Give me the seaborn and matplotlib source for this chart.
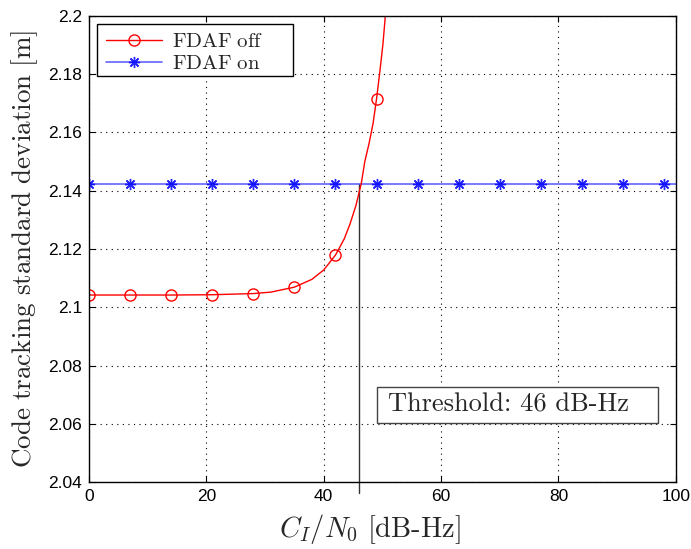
import matplotlib
matplotlib.use("Agg")
import matplotlib.pyplot as plt
from matplotlib.lines import Line2D
from matplotlib.patches import Rectangle
from matplotlib.ticker import FuncFormatter
import seaborn as sns
import pandas as pd

# ---- data ----
off_marker_x = [0, 7, 14, 21, 28, 35, 42, 49]
off_marker_y = [2.1042, 2.1042, 2.1042, 2.1043, 2.1047, 2.1069, 2.1179, 2.1715]
off_curve_x = [0, 7, 14, 21, 28, 31, 35, 38, 40, 42, 43.5, 44.5, 45.5, 46.4,
               47.0, 47.7, 48.4, 49, 49.6, 50.1, 50.5]
off_curve_y = [2.1042, 2.1042, 2.1042, 2.1043, 2.1047, 2.1052, 2.1069, 2.1096, 2.1128, 2.1179,
               2.1235, 2.1287, 2.1350, 2.1425, 2.1500, 2.1560, 2.1630, 2.1715, 2.1815, 2.1905, 2.2000]
on_x = [0, 7, 14, 21, 28, 35, 42, 49, 56, 63, 70, 77, 84, 91, 98, 100]
on_y = [2.1424] * 16
threshold = 46
threshold_level = 2.1424
x_ticks = [0, 20, 40, 60, 80, 100]
y_ticks = [2.04, 2.06, 2.08, 2.10, 2.12, 2.14, 2.16, 2.18, 2.20]

sns.set_theme(style="white")
plt.rcParams["mathtext.fontset"] = "cm"
plt.rcParams["font.family"] = ["Liberation Sans", "DejaVu Sans"]

fig = plt.figure(figsize=(6.91, 5.49), dpi=100)
ax = fig.add_axes([0.1288, 0.122, 0.8492, 0.8489])

curve_df = pd.DataFrame({"x": off_curve_x, "y": off_curve_y})
mark_df = pd.DataFrame({"x": off_marker_x, "y": off_marker_y})
on_df = pd.DataFrame({"x": on_x, "y": on_y})

star = (8, 2, 0)
sns.lineplot(data=on_df, x="x", y="y", ax=ax, color="#4848ff", lw=1.2, alpha=0.85,
             marker=star, markersize=8, markeredgecolor="blue", markeredgewidth=1.0,
             markevery=list(range(15)))
sns.lineplot(data=curve_df, x="x", y="y", ax=ax, color="red", lw=1.0)
ax.plot(mark_df["x"], mark_df["y"], ls="none", marker="o", ms=8, mfc="none",
        mec="red", mew=1.0)

ax.plot([threshold, threshold], [2.0362, threshold_level], color="#333333", lw=1.0,
        clip_on=False, zorder=1)

ax.set_xlim(0, 100)
ax.set_ylim(2.04, 2.2)
ax.set_xticks(x_ticks)
ax.set_yticks(y_ticks)
ax.yaxis.set_major_formatter(FuncFormatter(lambda v, p: f"{v:g}"))
ax.tick_params(direction="in", length=4, width=0.8, labelsize=12.5, colors="black",
               pad=5, top=True, right=True, bottom=True, left=True)
ax.grid(True, color="black", ls=(0, (1, 4)), lw=0.8)
for s in ax.spines.values():
    s.set_color("black")
    s.set_linewidth(1.0)

ax.set_xlabel(r"$C_I/N_0\ \mathrm{[dB\text{-}Hz]}$", fontsize=20.5, labelpad=4)
ax.xaxis.set_label_coords(0.479, -0.065)
ax.set_ylabel(r"$\mathrm{Code\ tracking\ standard\ deviation\ [m]}$", fontsize=19.5, labelpad=6)

# legend frame (Matlab-style wide box)
ax.add_patch(Rectangle((0.0136, 0.8712), 0.3339, 0.1116, transform=ax.transAxes,
                       facecolor="white", edgecolor="black", lw=1.0, zorder=4.5))
handles = [
    Line2D([], [], color="red", lw=1.0, marker="o", ms=8, mfc="none", mec="red"),
    Line2D([], [], color="#4848ff", lw=1.2, alpha=0.85, marker=star, ms=8, mec="blue"),
]
leg = ax.legend(handles, [r"$\mathrm{FDAF\ off}$", r"$\mathrm{FDAF\ on}$"],
                loc="upper left", bbox_to_anchor=(0.004, 0.997), fontsize=15,
                frameon=False, handlelength=2.7, borderpad=0.2, labelspacing=0.15,
                handletextpad=0.45)
leg.set_zorder(5)

ax.add_patch(Rectangle((49.1, 2.0603), 47.9, 0.0123, fill=True, facecolor="white",
                       edgecolor="#444444", lw=1.0, zorder=5))
ax.text(51.0, 2.0666, "Threshold: 46 dB-Hz", family="cmr10", fontsize=19,
        ha="left", va="center", zorder=6)

fig.savefig("out.png", dpi=100)
